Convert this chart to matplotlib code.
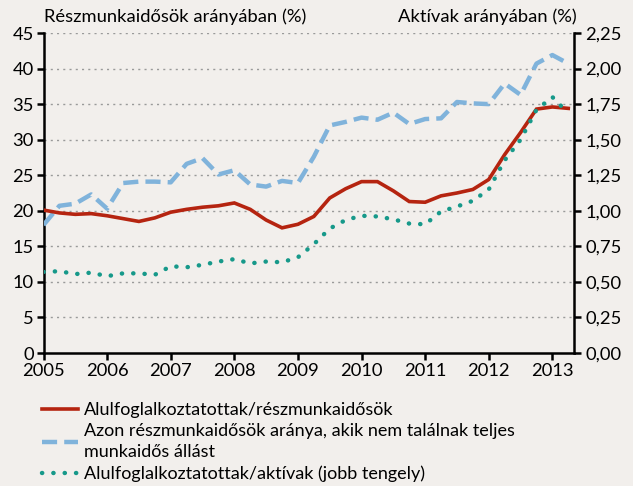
import matplotlib
matplotlib.use("Agg")
import matplotlib.pyplot as plt
from matplotlib.lines import Line2D
from matplotlib.ticker import FuncFormatter
import numpy as np

# Quarterly data 2005Q1 - 2013Q2
quarters = [2005 + 0.25 * i for i in range(34)]

underemp_parttime = [20.1, 19.7, 19.5, 19.6, 19.3, 18.9, 18.5, 19.0,
                     19.8, 20.2, 20.5, 20.7, 21.1, 20.2, 18.7, 17.6,
                     18.1, 19.2, 21.8, 23.1, 24.1, 24.1, 22.8, 21.3,
                     21.2, 22.1, 22.5, 23.0, 24.4, 27.9, 31.0, 34.3,
                     34.6, 34.4]

involuntary_parttime = [18.0, 20.7, 21.0, 22.3, 20.3, 23.9, 24.1, 24.1,
                        24.0, 26.6, 27.4, 25.1, 25.7, 23.7, 23.4, 24.2,
                        23.9, 27.6, 32.0, 32.5, 33.1, 32.8, 33.8, 32.2,
                        32.9, 33.0, 35.3, 35.1, 35.0, 37.9, 36.3, 40.7,
                        41.9, 40.7]

underemp_active = [0.57, 0.575, 0.555, 0.565, 0.54, 0.56, 0.56, 0.55,
                   0.61, 0.603, 0.62, 0.643, 0.66, 0.63, 0.643, 0.638,
                   0.673, 0.765, 0.875, 0.935, 0.965, 0.96, 0.94, 0.91,
                   0.905, 0.995, 1.03, 1.07, 1.15, 1.355, 1.50, 1.71,
                   1.80, 1.685]

left_ticks = [0, 5, 10, 15, 20, 25, 30, 35, 40, 45]
right_ticks = [0, 0.25, 0.5, 0.75, 1.0, 1.25, 1.5, 1.75, 2.0, 2.25]
year_ticks = [2005, 2006, 2007, 2008, 2009, 2010, 2011, 2012, 2013]

labels = ["Alulfoglalkoztatottak/részmunkaidősök",
          "Azon részmunkaidősök aránya, akik nem találnak teljes\nmunkaidős állást",
          "Alulfoglalkoztatottak/aktívak (jobb tengely)"]
left_title = "Részmunkaidősök arányában (%)"
right_title = "Aktívak arányában (%)"

BG = "#F2EFEC"
RED = "#B52410"
BLUE = "#80B3DB"
GREEN = "#17998A"

plt.rcParams['font.family'] = ['Lato', 'DejaVu Sans']
FS = 13.2

fig = plt.figure(figsize=(6.33, 4.86), dpi=100, facecolor=BG)
W, H = 633, 486
ax_l, ax_r, ax_t, ax_b = 43.5, 574, 33, 353
ax = fig.add_axes([ax_l / W, 1 - ax_b / H, (ax_r - ax_l) / W, (ax_b - ax_t) / H])
ax.set_facecolor(BG)
ax2 = ax.twinx()

ax.set_ylim(0, 45)
ax2.set_ylim(0, 2.25)
ax.set_xlim(2005, 2013.34)

for y in left_ticks[1:]:
    ax.axhline(y, color="#9a9a9a", lw=1.0, ls=(0, (1.5, 3)), zorder=0)

ax.plot(quarters, involuntary_parttime, color=BLUE, lw=3.2, ls=(0, (3.4, 1.6)),
        solid_capstyle='butt', dash_capstyle='butt', zorder=3)
ax.plot(quarters, underemp_parttime, color=RED, lw=2.6, zorder=4,
        solid_joinstyle='miter')
ax2.plot(quarters, underemp_active, color=GREEN, lw=3.2, ls=(0, (0.05, 2.5)),
         dash_capstyle='round', zorder=5)

ax.set_yticks(left_ticks)
ax2.set_yticks(right_ticks)
ax.set_xticks(year_ticks)
ax2.yaxis.set_major_formatter(FuncFormatter(lambda v, p: f"{v:.2f}".replace('.', ',')))

for a in (ax, ax2):
    a.spines['top'].set_visible(False)
    for s in ('left', 'right', 'bottom'):
        a.spines[s].set_linewidth(1.8)
        a.spines[s].set_color('black')
ax.spines['right'].set_visible(False)
ax2.spines['left'].set_visible(False)
ax2.spines['bottom'].set_visible(False)

ax.tick_params(axis='y', direction='out', length=5, width=1.8, labelsize=FS, pad=2)
ax.tick_params(axis='x', direction='out', length=5, width=1.8, labelsize=FS, pad=2.5)
ax2.tick_params(axis='y', direction='out', length=5, width=1.8, labelsize=FS, pad=3)

fig.text(ax_l / W, 1 - 17 / H, left_title, fontsize=FS, ha='left', va='center')
fig.text(577 / W, 1 - 17 / H, right_title, fontsize=FS, ha='right', va='center')

handles = [Line2D([], [], color=RED, lw=2.6),
           Line2D([], [], color=BLUE, lw=3.2, ls=(0, (3.4, 1.6))),
           Line2D([], [], color=GREEN, lw=3.2, ls=(0, (0.05, 2.5)), dash_capstyle='round')]
leg = fig.legend(handles, labels, loc='upper left', bbox_to_anchor=(42 / W, 1 - 402 / H),
                 frameon=False, fontsize=13, handlelength=2.0, handletextpad=0.3,
                 labelspacing=0.28, borderpad=0, borderaxespad=0)
for t in leg.get_texts():
    t.set_linespacing(1.4)

fig.savefig("out.png", dpi=100, facecolor=BG)
